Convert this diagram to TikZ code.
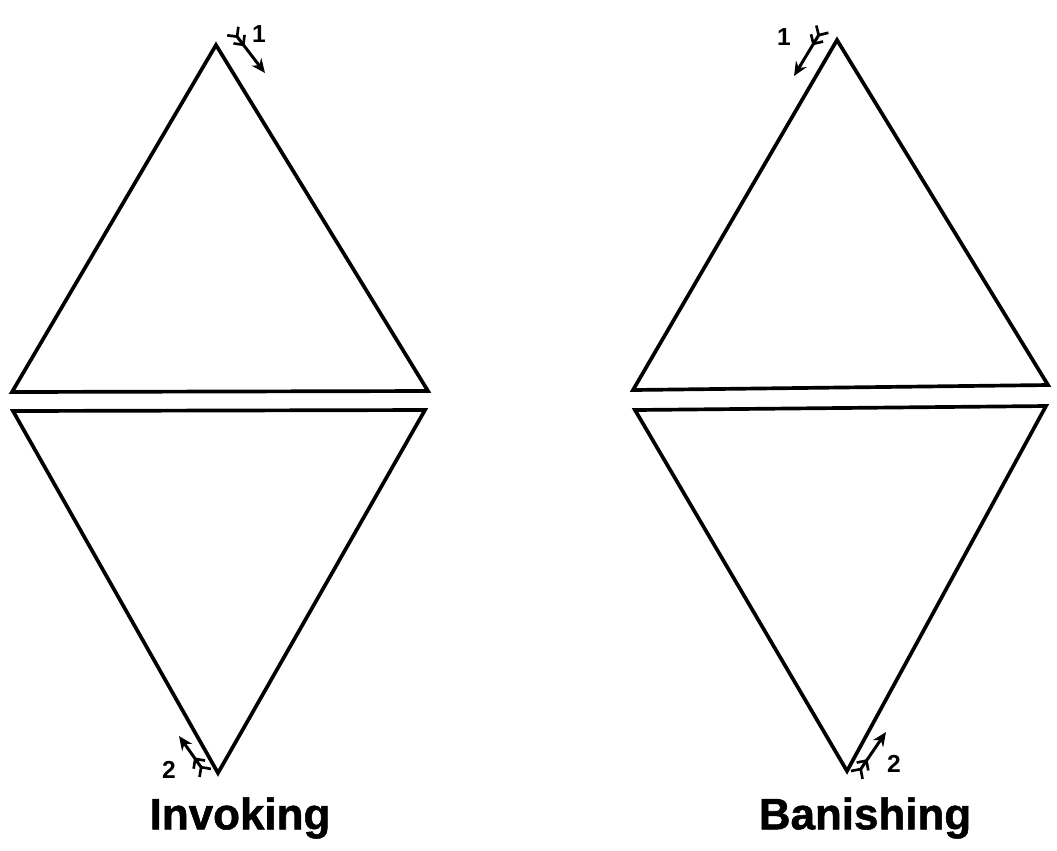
\documentclass[tikz,border=0pt]{standalone}
\usepackage{fontspec}
\setmainfont{Liberation Sans}
\newfontfamily\heavyfont[FakeBold=1.2]{Liberation Sans Bold}
\usetikzlibrary{arrows.meta}

\begin{document}
\begin{tikzpicture}[
    x=0.02cm, y=-0.02cm,
    tri/.style={draw, line width=2.1pt, line join=miter},
    dirarr/.style={line width=1.7pt, {Straight Barb[reversed,length=4pt,width=8pt,line width=1.5pt]Straight Barb[reversed,length=4pt,width=8pt,line width=1.5pt]}-{Stealth[length=8pt,width=7pt]}},
    num/.style={font=\fontsize{14}{14}\selectfont\bfseries},
    title/.style={font=\fontsize{25}{25}\selectfont\heavyfont},
]
\useasboundingbox (0,0) rectangle (1057,850);

% Invoking: corners
\coordinate (ia) at (216,45);
\coordinate (ibl) at (12,392);
\coordinate (ibr) at (428,391);
\coordinate (icl) at (13,411);
\coordinate (icr) at (425,410);
\coordinate (id) at (218,773);
% Banishing: corners
\coordinate (ba) at (837,40);
\coordinate (bbl) at (633,390);
\coordinate (bbr) at (1048,385);
\coordinate (bcl) at (635,410);
\coordinate (bcr) at (1046,406);
\coordinate (bd) at (847,771);

% Triangles
\draw[tri] (ia) -- (ibl) -- (ibr) -- cycle;
\draw[tri] (icl) -- (icr) -- (id) -- cycle;
\draw[tri] (ba) -- (bbl) -- (bbr) -- cycle;
\draw[tri] (bcl) -- (bcr) -- (bd) -- cycle;

% Direction arrows
\coordinate (i1s) at (232,30);
\coordinate (i1e) at (265,73);
\coordinate (i2s) at (206,774);
\coordinate (i2e) at (179,736);
\coordinate (b1s) at (823,28);
\coordinate (b1e) at (794,76);
\coordinate (b2s) at (856,776);
\coordinate (b2e) at (886,732);
\draw[dirarr] (i1s) -- (i1e);
\draw[dirarr] (i2s) -- (i2e);
\draw[dirarr] (b1s) -- (b1e);
\draw[dirarr] (b2s) -- (b2e);

% Step numbers
\node[num] (n1i) at (259,34) {1};
\node[num] (n2i) at (169,770) {2};
\node[num] (n1b) at (784,37) {1};
\node[num] (n2b) at (894,764) {2};

% Captions
\node[title] (inv) at (240,818) {Invoking};
\node[title] (ban) at (865,818) {Banishing};
\end{tikzpicture}
\end{document}
